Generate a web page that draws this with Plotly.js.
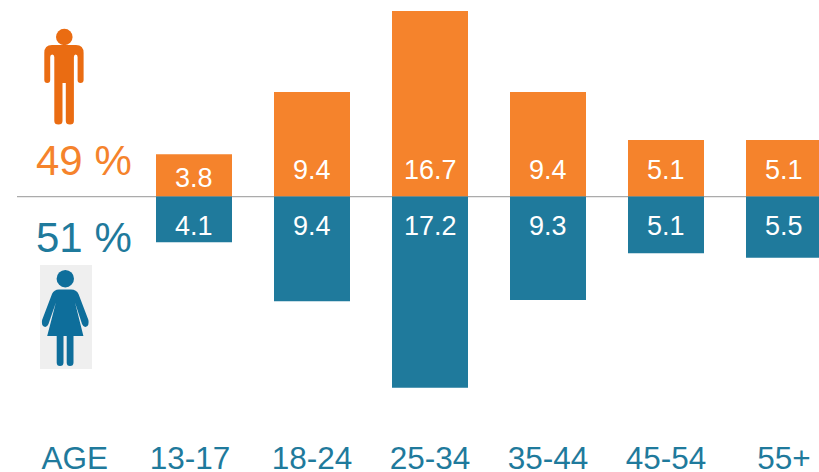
<!DOCTYPE html>
<html>
<head>
<meta charset="utf-8">
<script src="https://cdn.plot.ly/plotly-3.0.1.min.js"></script>
<style>html,body{margin:0;padding:0;background:#fff}#chart{width:819px;height:472px}</style>
</head>
<body>
<div id="chart"></div>
<script>
// Age groups and the share of each gender per group, in percent
const ageGroups = ['13-17', '18-24', '25-34', '35-44', '45-54', '55+'];
const maleShare = [3.8, 9.4, 16.7, 9.4, 5.1, 5.1];
const femaleShare = [4.1, 9.4, 17.2, 9.3, 5.1, 5.5];
const axisCaption = 'AGE';
const maleTotal = '49 %';
const femaleTotal = '51 %';

const ORANGE = '#F5832C';
const TEAL = '#1F7A9C';
const FONT = '"Liberation Sans", Arial, sans-serif';
const W = 819, H = 472, BOTTOM = 36;

// Axis ranges chosen so one unit is 11.12px and one category step is 118px
const yScale = 11.12, baseY = 196.6;
const xScale = 118, firstX = 194;
const xRange = [(0 - firstX) / xScale, (W - firstX) / xScale];
const yRange = [-(H - BOTTOM - baseY) / yScale, baseY / yScale];
const positions = ageGroups.map((_, i) => i);
// The first age label sits slightly left of its bar
const tickPositions = [-1.01].concat(positions.map(i => (i === 0 ? -0.034 : i)));

const bar = (name, values, sign, color) => ({
  type: 'bar', name, x: positions, y: values.map(v => sign * v),
  width: 76 / xScale, marker: { color, line: { width: 0 } },
  hoverinfo: 'skip', showlegend: false
});

// Upper labels keep clear of the bar top on short bars; lower labels keep a fixed offset
const valueLabel = (v, i, shift) => ({
  x: i, y: 0, xref: 'x', yref: 'y', text: v.toFixed(1), showarrow: false,
  yshift: shift,
  font: { family: FONT, size: 27, color: '#fff' }
});
const pageLabel = (text, px, py, color) => ({
  xref: 'paper', yref: 'paper', x: px / W, y: 1 - py / (H - BOTTOM),
  text, showarrow: false, xanchor: 'center', yanchor: 'middle',
  font: { family: FONT, size: 42, color }
});

// Icons are drawn in page pixels, anchored to the plot's top-left corner
const flip = d => d.replace(/(-?[\d.]+) (-?[\d.]+)/g, (_, a, b) => a + ' ' + (-b));
const pxShape = (props) => Object.assign({
  xref: 'paper', yref: 'paper', xsizemode: 'pixel', ysizemode: 'pixel',
  xanchor: 0, yanchor: 1, layer: 'above', line: { width: 0 }
}, props);
const pxPath = (d, fill) => pxShape({ type: 'path', path: flip(d), fillcolor: fill });
const pxDisc = (cx, cy, r, fill) => pxShape({
  type: 'circle', x0: cx - r, x1: cx + r, y0: -(cy - r), y1: -(cy + r), fillcolor: fill
});
const pxRect = (x0, y0, x1, y1, fill) => pxShape({
  type: 'rect', x0, x1, y0: -y0, y1: -y1, fillcolor: fill
});

const MAN = '#EA6C12', WOMAN = '#0E6E9B';
const manBody = 'M 52 45 L 76 45 Q 83.6 45 83.6 53 L 83.6 80 Q 83.6 83 80.5 83 Q 77.6 83 77.6 80 L 77.6 57 ' +
  'Q 77.6 54.5 75.7 54.5 Q 73.9 54.5 73.9 57 L 73.9 121 Q 73.9 124.5 70 124.5 Q 65.8 124.5 65.8 121 L 65.8 83 L 62.5 83 ' +
  'L 62.5 121 Q 62.5 124.5 58.5 124.5 Q 54.3 124.5 54.3 121 L 54.3 57 Q 54.3 54.5 52.2 54.5 Q 50.2 54.5 50.2 57 ' +
  'L 50.2 80 Q 50.2 83 47.3 83 Q 44.3 83 44.3 80 L 44.3 53 Q 44.3 45 52 45 Z';
const womanDress = 'M 59 289.5 L 71 289.5 Q 76.5 289.5 78.5 294 L 88.4 320 Q 89.5 325.5 86 326.8 Q 83.5 327.5 82 324 ' +
  'L 75 302.5 L 83.4 336 L 73.5 336 L 73.5 362.5 Q 73.5 366 70 366 Q 66.7 366 66.7 362.5 L 66.7 336 L 63.5 336 ' +
  'L 63.5 362.5 Q 63.5 366 60 366 Q 56.7 366 56.7 362.5 L 56.7 336 L 47.2 336 L 55.9 302.5 L 48.5 324 Q 47 327.5 44.5 326.8 ' +
  'Q 41 325.5 42.1 320 L 52 294 Q 54 289.5 59 289.5 Z';

const layout = {
  width: W, height: H, margin: { l: 0, r: 0, t: 0, b: BOTTOM, pad: 0 },
  paper_bgcolor: '#fff', plot_bgcolor: '#fff', barmode: 'overlay', showlegend: false,
  font: { family: FONT },
  xaxis: {
    range: xRange, showgrid: false, zeroline: false, showline: false, ticks: '',
    tickmode: 'array', tickvals: tickPositions, ticktext: [axisCaption].concat(ageGroups),
    tickfont: { family: FONT, size: 31.5, color: TEAL }, automargin: false
  },
  yaxis: { range: yRange, visible: false, showgrid: false, zeroline: false },
  shapes: [
    { type: 'line', xref: 'x', yref: 'y', x0: (17 - firstX) / xScale, x1: xRange[1], y0: 0, y1: 0,
      layer: 'below', line: { color: '#ABABAB', width: 1.4 } },
    pxPath(manBody, MAN), pxDisc(64.3, 37, 8.3, MAN),
    pxRect(40, 265, 92, 369, '#EFEFEF'),
    pxPath(womanDress, WOMAN), pxDisc(65.3, 278.7, 8.7, WOMAN)
  ],
  annotations: [
    pageLabel(maleTotal, 83.5, 160, '#F5832C'),
    pageLabel(femaleTotal, 83.5, 238, TEAL),
    ...maleShare.map((v, i) => valueLabel(v, i, Math.min(26.5, v * yScale - 24))),
    ...femaleShare.map((v, i) => valueLabel(v, i, -29))
  ]
};

Plotly.newPlot('chart',
  [bar('Male', maleShare, 1, ORANGE), bar('Female', femaleShare, -1, TEAL)],
  layout, { displayModeBar: false, staticPlot: true });
</script>
</body>
</html>
